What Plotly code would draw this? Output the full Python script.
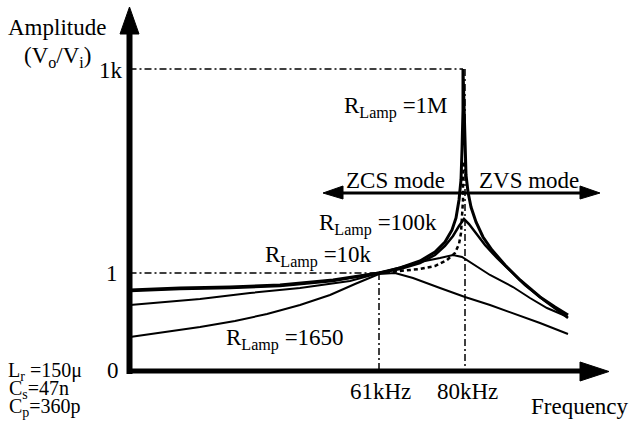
import plotly.graph_objects as go

# ---- data (schematic chart space: x = frequency position, y = amplitude position, screen-like units) ----
curve_1M_x = [130, 180, 230, 280, 333, 379, 400, 420, 435, 445, 452, 456, 459, 461, 462, 463, 463,
              464, 465, 466, 468, 471, 476, 483, 492, 505, 520, 540, 555, 568]
curve_1M_y = [290, 288, 287, 285, 280, 273, 268, 261, 252, 242, 230, 218, 200, 180, 150, 110, 69,
              110, 150, 175, 192, 207, 222, 237, 250, 265, 280, 297, 307, 315]

curve_100k_x = [130, 180, 230, 280, 333, 379, 400, 420, 435, 445, 453, 459, 464, 469, 476, 485, 497, 510, 525, 545, 568]
curve_100k_y = [291, 289, 288, 286, 281, 273, 269, 263, 255, 246, 236, 226, 219, 224, 233, 245, 258, 271, 285, 301, 318]

curve_10k_x = [130, 200, 250, 300, 350, 379, 400, 420, 440, 453, 462, 475, 490, 513, 530, 547, 568]
curve_10k_y = [305, 299, 293, 288, 281, 273, 267, 262, 258, 255, 257, 265, 275, 287, 298, 308, 317]

curve_1650_x = [130, 160, 200, 235, 267, 300, 330, 355, 379, 395, 413, 440, 465, 490, 513, 540, 568]
curve_1650_y = [337, 333, 327, 321, 314, 305, 295, 284, 274, 273, 278, 288, 297, 305, 313, 323, 334]

dashed_x = [379, 400, 420, 435, 447, 455, 459, 461, 462, 463, 463, 464]
dashed_y = [273, 271, 269, 266, 260, 253, 244, 233, 220, 200, 180, 160]

# reference levels / frequencies
y_1k, y_1, y_0 = 69, 273, 371
x_axis0, x_61k, x_80k = 129.5, 379, 465

labels = ["Amplitude", "(V<sub>o</sub>/V<sub>i</sub>)", "1k", "1", "0",
          "R<sub>Lamp</sub> =1M", "ZCS mode", "ZVS mode", "R<sub>Lamp</sub> =100k",
          "R<sub>Lamp</sub> =10k", "R<sub>Lamp</sub> =1650", "61kHz", "80kHz", "Frequency"]
label_x = [57, 57, 111, 112, 113, 396, 395, 529, 378, 318, 285, 380, 467, 580]
label_y = [27, 57, 70, 273, 370, 107, 180, 180, 224, 256, 339, 391, 391, 406]

params = ["L<sub>r</sub> =150μ", "C<sub>s</sub>=47n", "C<sub>p</sub>=360p"]
param_x = [7, 8, 8]
param_y = [371, 389, 407]

FONT = "Times New Roman, Liberation Serif, serif"
fig = go.Figure()

def line(x, y, width=2, dash="solid"):
    fig.add_trace(go.Scatter(x=x, y=y, mode="lines", line=dict(color="black", width=width, dash=dash),
                             hoverinfo="skip", showlegend=False))

def tri(x, y):
    fig.add_trace(go.Scatter(x=x + [x[0]], y=y + [y[0]], mode="lines", fill="toself", fillcolor="black",
                             line=dict(color="black", width=1), hoverinfo="skip", showlegend=False))

# dash-dot guide lines
dd = "7px,3px,2px,3px"
line([x_axis0, x_80k - 2], [y_1k, y_1k], 1.5, dd)
line([x_axis0, x_61k], [y_1, y_1], 1.5, dd)
line([x_61k, x_61k], [y_1, y_0], 1.5, dd)
line([x_80k, x_80k], [y_1k, y_0], 1.5, dd)

# curves
line(curve_1650_x, curve_1650_y, 2)
line(curve_10k_x, curve_10k_y, 2)
line(curve_100k_x, curve_100k_y, 2.5)
line(curve_1M_x, curve_1M_y, 3)
line(dashed_x, dashed_y, 2.5, "4px,3px")

# axes
line([x_axis0, x_axis0], [y_0 + 3, 30], 6)
tri([120, 139, 129.5], [34, 34, 7])
line([127, 584], [y_0, y_0], 5)
tri([580, 580, 609], [362, 381, 371.5])

# ZCS / ZVS double arrow
line([338, 585], [193, 193], 3)
tri([323, 343, 343], [193, 186, 199])
tri([600, 580, 580], [193, 186, 199])

for t, x, y in zip(labels, label_x, label_y):
    fig.add_annotation(x=x, y=y, text=t, showarrow=False, xanchor="center", yanchor="middle",
                       font=dict(family=FONT, size=23, color="black"))

for t, x, y in zip(params, param_x, param_y):
    fig.add_annotation(x=x, y=y, text=t, showarrow=False, xanchor="left", yanchor="middle",
                       borderpad=0, font=dict(family=FONT, size=20, color="black"))

fig.update_layout(width=633, height=430, margin=dict(l=0, r=0, t=0, b=0),
                  paper_bgcolor="white", plot_bgcolor="white",
                  xaxis=dict(range=[0, 633], visible=False, fixedrange=True),
                  yaxis=dict(range=[430, 0], visible=False, fixedrange=True))
# remove the page's default 8px body margin so the figure fills the window exactly
fig.write_html("out.html", config={"displayModeBar": False},
               post_script="document.body.style.margin='0';document.body.style.overflow='hidden';")
